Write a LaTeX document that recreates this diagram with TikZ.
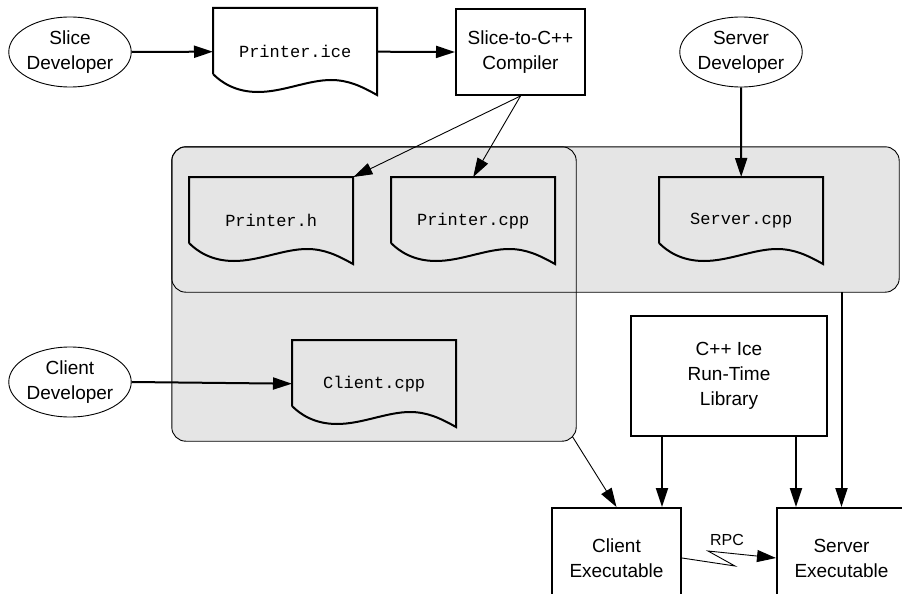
\documentclass[tikz,border=0pt]{standalone}
\usepackage{fontspec}
\setmainfont{Liberation Sans}
\setmonofont{Liberation Mono}
\usetikzlibrary{calc,positioning,shapes.geometric,arrows.meta}
\tikzset{
	dev/.style={draw,ellipse,line width=0.9pt,minimum width=122pt,minimum height=70pt,
		inner sep=0pt,align=center,font=\fontsize{19}{25}\selectfont},
	box/.style={draw,rectangle,line width=2pt,inner sep=0pt,align=center,
		font=\fontsize{19}{25}\selectfont},
	doc/.style={rectangle,minimum width=164pt,minimum height=87pt,inner sep=0pt,
		font=\ttfamily\fontsize{17}{20}\selectfont},
	docline/.style={line width=2pt,line join=miter},
	area/.style={rectangle,rounded corners=14pt,fill=gray!20,inner sep=0pt},
	arealine/.style={rounded corners=14pt,line width=0.9pt},
	arr/.style={-{Triangle[length=19pt,width=12pt]},line width=2pt},
	thinarr/.style={-{Triangle[length=19pt,width=12pt]},line width=0.9pt}
}
% outline of a file node: flat top, wavy bottom
\newcommand{\drawdoc}[1]{%
	\draw[docline,shift={(#1.north west)}] (0,66) -- (0,0) -- (164,0) -- (164,87)
		.. controls (148,78) and (135,72) .. (118,72)
		.. controls (95,72) and (70,84) .. (45,84)
		.. controls (22,84) and (8,74) .. (0,66);}

\begin{document}
\begin{tikzpicture}[x=1pt,y=-1pt]

\useasboundingbox (0,0) rectangle (902,594);
\clip (0,0) rectangle (902,594);

% shaded groups
\node[area,minimum width=727pt,minimum height=145pt] (serverarea) at (535.5,219.5) {};
\node[area,minimum width=404pt,minimum height=294pt] (clientarea) at (374,294) {};
\draw[arealine] (serverarea.north west) rectangle (serverarea.south east);
\draw[arealine] (clientarea.north west) rectangle (clientarea.south east);

% developers
\node[dev] (slicedev) at (70,52) {Slice\\Developer};
\node[dev] (serverdev) at (741,52) {Server\\Developer};
\node[dev] (clientdev) at (70,382) {Client\\Developer};

% files
\node[doc,anchor=north west] (printerice) at (213,8) {Printer.ice};
\node[doc,anchor=north west] (printerh) at (189,177) {Printer.h};
\node[doc,anchor=north west] (printercpp) at (391,177) {Printer.cpp};
\node[doc,anchor=north west] (servercpp) at (659,177) {Server.cpp};
\node[doc,anchor=north west] (clientcpp) at (292,340) {Client.cpp};
\drawdoc{printerice}
\drawdoc{printerh}
\drawdoc{printercpp}
\drawdoc{servercpp}
\drawdoc{clientcpp}

% boxes
\node[box,minimum width=129pt,minimum height=86pt] (compiler) at (520.5,52) {Slice-to-C++\\Compiler};
\node[box,minimum width=196pt,minimum height=120pt] (runtime) at (729,376) {C++ Ice\\Run-Time\\Library};
\node[box,minimum width=129pt,minimum height=100pt] (clientexec) at (616.5,558) {Client\\Executable};
\node[box,minimum width=129pt,minimum height=100pt] (serverexec) at (841.5,558) {Server\\Executable};

\draw[arr] (slicedev) -- (printerice.west);
\draw[arr] (printerice.east) -- (compiler.west);
\draw[thinarr] (compiler.south) -- (printerh.north east);
\draw[thinarr] (compiler.south) -- (printercpp.north);
\draw[arr] (serverdev.south) -- (servercpp.north);
\draw[arr] (clientdev.east) -- (clientcpp.west);

\coordinate (libl) at ([xshift=-67pt]runtime.south);
\coordinate (libr) at ([xshift=67pt]runtime.south);
\draw[arr] (libl) -- (libl |- clientexec.north);
\draw[arr] (libr) -- (libr |- serverexec.north);
\draw[arr] (serverexec.north |- serverarea.south) -- (serverexec.north);
\draw[thinarr] ([shift={(-4pt,5pt)}]clientarea.south east) -- ([xshift=0pt]clientexec.north);

% RPC link
\coordinate (mid) at ($(clientexec.east)!0.5!(serverexec.west)$);
\coordinate (bolta) at ([shift={(6pt,-8pt)}]mid);
\coordinate (boltb) at ([shift={(-21pt,7pt)}]mid);
\draw[thinarr] (clientexec.east) -- (bolta) -- (boltb) -- (serverexec.west);
\node[font=\fontsize{16}{19}\selectfont] (rpc) at ([shift={(-2pt,18pt)}]mid) {RPC};

\end{tikzpicture}
\end{document}
